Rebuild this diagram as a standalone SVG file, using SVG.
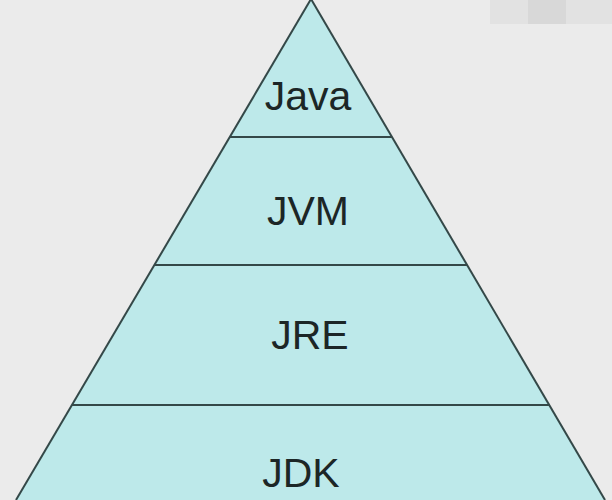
<svg xmlns="http://www.w3.org/2000/svg" width="612" height="500" viewBox="0 0 612 500">
<style>
.lbl{font-family:"Liberation Sans",Arial,sans-serif;font-size:41px;fill:#1c2626;text-anchor:middle}
.band{fill:#bde9ea;stroke:none}
.edge{stroke:#344848;stroke-width:2;fill:none}
</style>
<rect width="612" height="500" fill="#ebebeb"/>
<rect x="490" y="0" width="122" height="24" fill="#e2e2e2"/>
<rect x="528" y="0" width="38" height="24" fill="#d8d8d8"/>
<g id="pyramid">
<polygon class="band" points="311,-1 16,500 605,500"/>
</g>
<g id="connectors">
<line class="edge" x1="311" y1="-1" x2="16" y2="500"/>
<line class="edge" x1="311" y1="-1" x2="605" y2="500"/>
<line class="edge" x1="230" y1="137" x2="392" y2="137"/>
<line class="edge" x1="155" y1="265" x2="467" y2="265"/>
<line class="edge" x1="72" y1="405" x2="550" y2="405"/>
</g>
<g id="java"><text class="lbl" x="308" y="110">Java</text></g>
<g id="jvm"><text class="lbl" x="308" y="225">JVM</text></g>
<g id="jre"><text class="lbl" x="310" y="349">JRE</text></g>
<g id="jdk"><text class="lbl" x="301" y="487">JDK</text></g>
</svg>
